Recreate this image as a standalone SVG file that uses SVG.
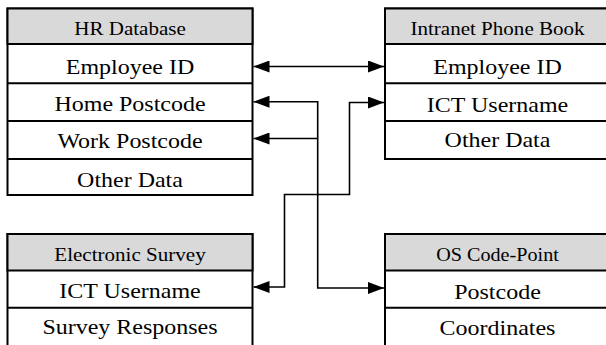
<svg xmlns="http://www.w3.org/2000/svg" width="606" height="345" viewBox="0 0 606 345">
<style>
.box{fill:#fff;stroke:#000;stroke-width:2}
.hdr{fill:#d9d9d9;stroke:#000;stroke-width:2}
.sep{stroke:#000;stroke-width:2}
.h{font-family:"Liberation Serif","Times New Roman",serif;font-size:18px;fill:#000;text-anchor:middle}
.r{font-family:"Liberation Serif","Times New Roman",serif;font-size:22px;fill:#000;text-anchor:middle}
.c{fill:none;stroke:#000;stroke-width:1.6}
</style>
<defs>
<marker id="ah" viewBox="0 0 16 12" refX="16" refY="6" markerWidth="16" markerHeight="12" markerUnits="userSpaceOnUse" orient="auto-start-reverse">
<path d="M0,0 L16,6 L0,12 Z" fill="#000"/>
</marker>
</defs>
<rect width="606" height="345" fill="#fff"/>

<g id="hr-database">
<rect class="box" x="7.5" y="8.5" width="245" height="186.5"/>
<rect class="hdr" x="7.5" y="8.5" width="245" height="35.5"/>
<line class="sep" x1="7.5" y1="83.3" x2="252.5" y2="83.3"/>
<line class="sep" x1="7.5" y1="121" x2="252.5" y2="121"/>
<line class="sep" x1="7.5" y1="159" x2="252.5" y2="159"/>
<text class="h" transform="translate(130,35) scale(1.17,1)">HR Database</text>
<text class="r" transform="translate(130,74.3) scale(1.09,1)">Employee ID</text>
<text class="r" transform="translate(130,111.3) scale(1.09,1)">Home Postcode</text>
<text class="r" transform="translate(130,148) scale(1.09,1)">Work Postcode</text>
<text class="r" transform="translate(130,186.5) scale(1.09,1)">Other Data</text>
</g>

<g id="intranet-phone-book">
<rect class="box" x="385" y="8.5" width="230" height="150.5"/>
<rect class="hdr" x="385" y="8.5" width="230" height="35.5"/>
<line class="sep" x1="385" y1="83.3" x2="615" y2="83.3"/>
<line class="sep" x1="385" y1="121" x2="615" y2="121"/>
<text class="h" transform="translate(497.5,35) scale(1.17,1)">Intranet Phone Book</text>
<text class="r" transform="translate(497.5,74.3) scale(1.09,1)">Employee ID</text>
<text class="r" transform="translate(497.5,111.5) scale(1.09,1)">ICT Username</text>
<text class="r" transform="translate(497.5,147) scale(1.09,1)">Other Data</text>
</g>

<g id="electronic-survey">
<rect class="box" x="7.5" y="234" width="245" height="125"/>
<rect class="hdr" x="7.5" y="234" width="245" height="36.5"/>
<line class="sep" x1="7.5" y1="307.7" x2="252.5" y2="307.7"/>
<text class="h" transform="translate(130,260.5) scale(1.17,1)">Electronic Survey</text>
<text class="r" transform="translate(130,297.5) scale(1.09,1)">ICT Username</text>
<text class="r" transform="translate(130,334) scale(1.09,1)">Survey Responses</text>
</g>

<g id="os-code-point">
<rect class="box" x="385" y="234" width="230" height="125"/>
<rect class="hdr" x="385" y="234" width="230" height="36.5"/>
<line class="sep" x1="385" y1="307.7" x2="615" y2="307.7"/>
<text class="h" transform="translate(497.5,260.5) scale(1.12,1)">OS Code-Point</text>
<text class="r" transform="translate(497.5,298.5) scale(1.09,1)">Postcode</text>
<text class="r" transform="translate(497.5,335) scale(1.09,1)">Coordinates</text>
</g>

<g id="connectors">
<path class="c" d="M253.5,66.5 H384" marker-start="url(#ah)" marker-end="url(#ah)"/>
<path class="c" d="M384,288 H317.7 V101.7 H253.5" marker-start="url(#ah)" marker-end="url(#ah)"/>
<path class="c" d="M317.7,138.5 H253.5" marker-end="url(#ah)"/>
<path class="c" d="M384,102.5 H349.5 V194.5 H284.5 V287 H253.5" marker-start="url(#ah)" marker-end="url(#ah)"/>
</g>
</svg>
